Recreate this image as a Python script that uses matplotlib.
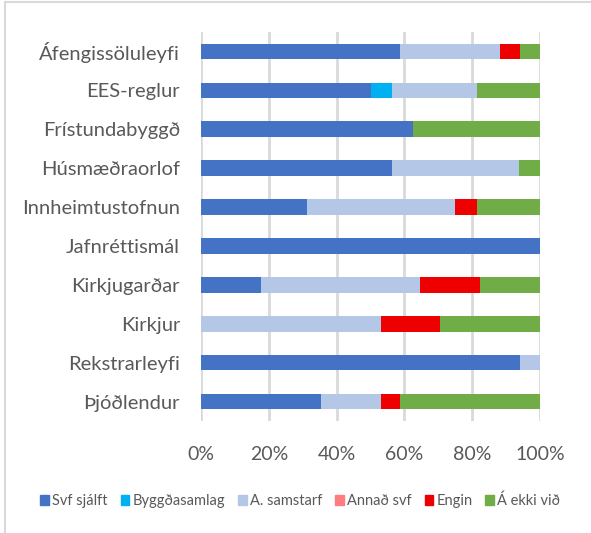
import numpy as np
import matplotlib.pyplot as plt
from matplotlib.lines import Line2D

plt.rcParams['font.family'] = ['Lato', 'DejaVu Sans']

categories = ['Áfengissöluleyfi', 'EES-reglur', 'Frístundabyggð', 'Húsmæðraorlof',
              'Innheimtustofnun', 'Jafnréttismál', 'Kirkjugarðar', 'Kirkjur',
              'Rekstrarleyfi', 'Þjóðlendur']

# number of answers per category
svf_sjalft   = [10, 8, 5, 9, 5, 1, 3, 0, 16, 6]
byggdasamlag = [0, 1, 0, 0, 0, 0, 0, 0, 0, 0]
a_samstarf   = [5, 4, 0, 6, 7, 0, 8, 9, 1, 3]
annad_svf    = [0, 0, 0, 0, 0, 0, 0, 0, 0, 0]
engin        = [1, 0, 0, 0, 1, 0, 3, 3, 0, 1]
a_ekki_vid   = [1, 3, 3, 1, 3, 0, 3, 5, 0, 7]

series = ['Svf sjálft', 'Byggðasamlag', 'A. samstarf', 'Annað svf', 'Engin', 'Á ekki við']
colors = ['#4472C4', '#00B0F0', '#B4C7E7', '#FF7C80', '#EE0000', '#70AD47']

counts = np.array([svf_sjalft, byggdasamlag, a_samstarf, annad_svf, engin, a_ekki_vid], dtype=float)
shares = counts / counts.sum(axis=0)

fig = plt.figure(figsize=(5.91, 5.33), dpi=100)
ax = fig.add_axes([0.340, 0.210, 0.574, 0.730])

y = np.arange(len(categories))
left = np.zeros(len(categories))
for vals, name, c in zip(shares, series, colors):
    ax.barh(y, vals, left=left, height=0.4, color=c, label=name, zorder=3)
    left += vals

ax.set_xlim(0, 1)
ax.set_ylim(len(categories) - 0.5, -0.5)
ax.set_yticks(y)
ax.set_yticklabels(categories, fontsize=14.5, color='#595959')
ax.set_xticks(np.linspace(0, 1, 6))
ax.set_xticklabels(['0%', '20%', '40%', '60%', '80%', '100%'], fontsize=14, color='#595959')
ax.tick_params(length=0)
ax.tick_params(axis='y', pad=15)
ax.tick_params(axis='x', pad=18)
ax.grid(axis='x', color='#D9D9D9', linewidth=2, zorder=0)
for s in ax.spines.values():
    s.set_visible(False)

handles = [plt.Rectangle((0, 0), 1, 1, color=c) for c in colors]
fig.legend(handles, series, loc='center', bbox_to_anchor=(0.508, 0.060), ncol=6,
           frameon=False, fontsize=10.5, handlelength=0.6, handleheight=0.6,
           handletextpad=0.2, columnspacing=0.9, labelcolor='#595959')

# chart border
fig.add_artist(Line2D([0.009, 0.009], [0, 0.996], color='#D9D9D9', linewidth=1.5))
fig.add_artist(Line2D([0.009, 1], [0.996, 0.996], color='#D9D9D9', linewidth=1.5))

fig.savefig('out.png', dpi=100)
